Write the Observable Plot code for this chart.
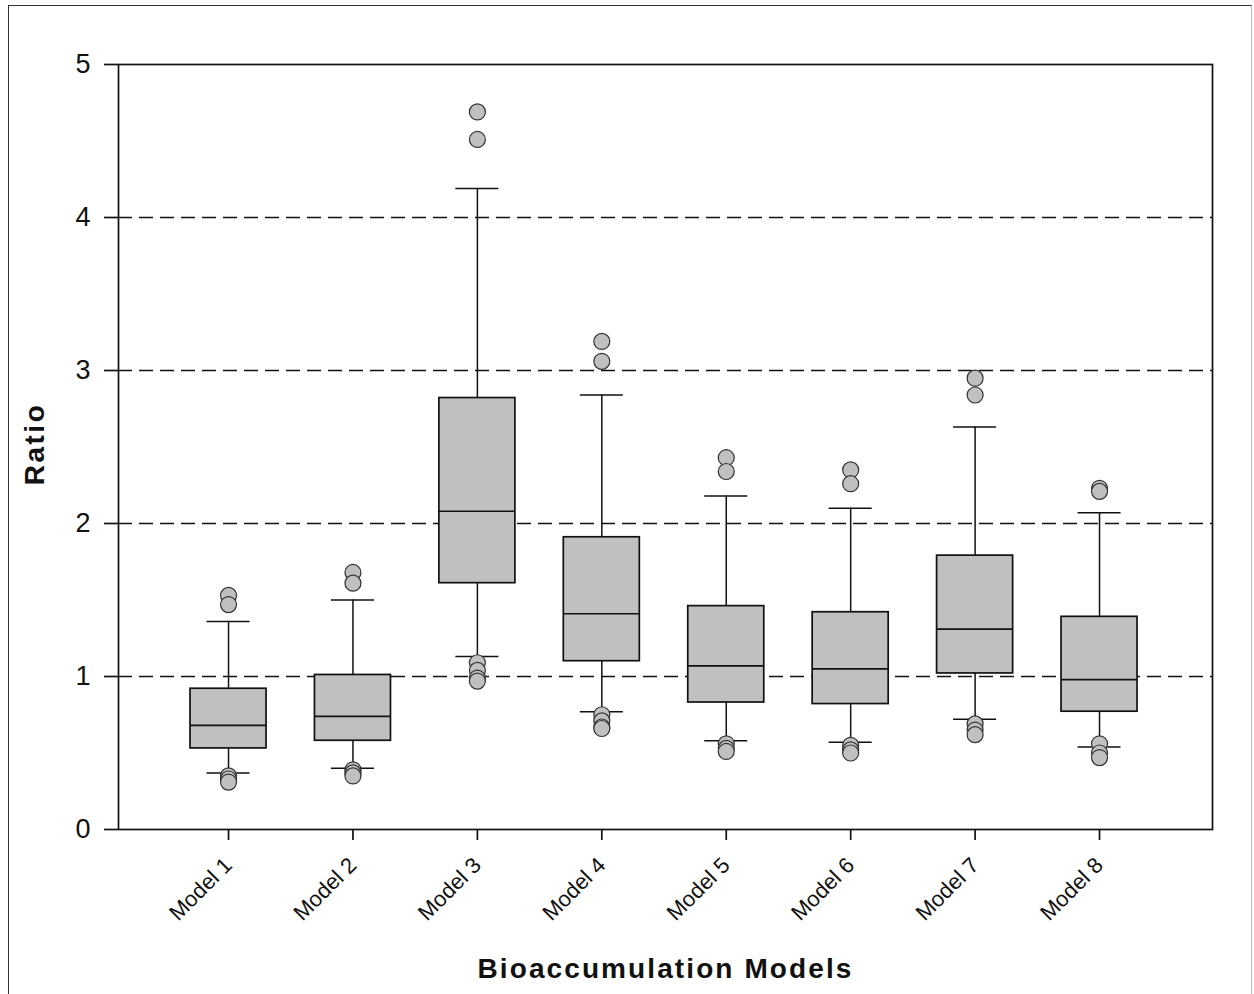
<!DOCTYPE html>
<html>
<head>
<meta charset="utf-8">
<script src="https://cdn.jsdelivr.net/npm/d3@7"></script>
<script src="https://cdn.jsdelivr.net/npm/@observablehq/plot@0.6"></script>
<style>
  html, body { margin: 0; padding: 0; background: #fff; }
  #wrap { position: relative; width: 1254px; height: 994px; overflow: hidden; }
  #border { position: absolute; left: 8px; top: 5px; width: 1242px; height: 1100px;
            border: 1.5px solid #333; border-right-color: #bbb; pointer-events: none; }
</style>
</head>
<body>
<div id="wrap"><div id="border"></div></div>
<script>
const models = ["Model 1","Model 2","Model 3","Model 4","Model 5","Model 6","Model 7","Model 8"];
const whiskerLow  = [0.37, 0.40, 1.13, 0.77, 0.58, 0.57, 0.72, 0.54];
const q1          = [0.53, 0.58, 1.61, 1.10, 0.83, 0.82, 1.02, 0.77];
const median      = [0.68, 0.74, 2.08, 1.41, 1.07, 1.05, 1.31, 0.98];
const q3          = [0.92, 1.01, 2.82, 1.91, 1.46, 1.42, 1.79, 1.39];
const whiskerHigh = [1.36, 1.50, 4.19, 2.84, 2.18, 2.10, 2.63, 2.07];
const outliers = [
  [1.53, 1.47, 0.35, 0.33, 0.31],
  [1.68, 1.61, 0.39, 0.37, 0.35],
  [4.69, 4.51, 1.09, 1.04, 0.99, 0.97],
  [3.19, 3.06, 0.75, 0.71, 0.67, 0.66],
  [2.43, 2.34, 0.56, 0.53, 0.51],
  [2.35, 2.26, 0.55, 0.52, 0.50],
  [2.95, 2.84, 0.69, 0.65, 0.62],
  [2.23, 2.21, 0.56, 0.50, 0.47]
];
const yTicks = [0, 1, 2, 3, 4, 5];
const gridValues = [1, 2, 3, 4];
const xTitle = "Bioaccumulation Models";
const yTitle = "Ratio";

const stats = models.map((m, i) => ({
  model: m, lo: whiskerLow[i], q1: q1[i], med: median[i], q3: q3[i], hi: whiskerHigh[i]
}));
const points = models.flatMap((m, i) => outliers[i].map(v => ({model: m, value: v})));

const chart = Plot.plot({
  width: 1254,
  height: 994,
  marginLeft: 118,
  marginRight: 42,
  marginTop: 64,
  marginBottom: 165,
  style: {fontFamily: "'Liberation Sans', Arial, sans-serif", background: "transparent", color: "#111"},
  x: {type: "band", domain: models, paddingInner: 0.389, paddingOuter: 0.5906, align: 0.49, round: false},
  y: {domain: [0, 5]},
  marks: [
    Plot.ruleY(gridValues, {stroke: "#111", strokeWidth: 1.7, strokeDasharray: "14,7"}),
    Plot.ruleX(stats, {x: "model", y1: "lo", y2: "q1", stroke: "#111", strokeWidth: 1.5}),
    Plot.ruleX(stats, {x: "model", y1: "q3", y2: "hi", stroke: "#111", strokeWidth: 1.5}),
    Plot.barY(stats, {x: "model", y1: "q1", y2: "q3", fill: "#c0c0c0", stroke: "#111", strokeWidth: 1.7}),
    Plot.tickY(stats, {x: "model", y: "med", stroke: "#111", strokeWidth: 1.7}),
    Plot.tickY(stats, {x: "model", y: "lo", stroke: "#111", strokeWidth: 1.5, insetLeft: 16.5, insetRight: 16.5}),
    Plot.tickY(stats, {x: "model", y: "hi", stroke: "#111", strokeWidth: 1.5, insetLeft: 16.5, insetRight: 16.5}),
    Plot.dot(points, {x: "model", y: "value", r: 8, fill: "#c0c0c0", stroke: "#333", strokeWidth: 1.2}),
    Plot.frame({stroke: "#111", strokeWidth: 1.7}),
    Plot.axisY({ticks: yTicks, tickSize: 14, tickPadding: 14, fontSize: 27, tickFormat: d => String(d), label: null, strokeWidth: 1.7}),
    Plot.axisX({tickSize: 11, tickPadding: 21, tickRotate: -45, fontSize: 22, label: null, strokeWidth: 1.7}),
    Plot.text([yTitle], {frameAnchor: "left", textAnchor: "middle", text: d => d, rotate: -90, dx: -83, dy: -3, fontSize: 28, fontWeight: "bold", fill: "#111", className: "ytitle"}),
    Plot.text([xTitle], {frameAnchor: "bottom", textAnchor: "middle", text: d => d, dy: 148, fontSize: 28, fontWeight: "bold", fill: "#111", className: "xtitle"})
  ]
});
d3.select(chart).selectAll(".xtitle text").style("letter-spacing", "2.1px");
d3.select(chart).selectAll(".ytitle text").style("letter-spacing", "2.5px");
document.getElementById("wrap").insertBefore(chart, document.getElementById("border"));
chart.style.position = "absolute";
chart.style.left = "0px";
chart.style.top = "0px";
</script>
</body>
</html>
